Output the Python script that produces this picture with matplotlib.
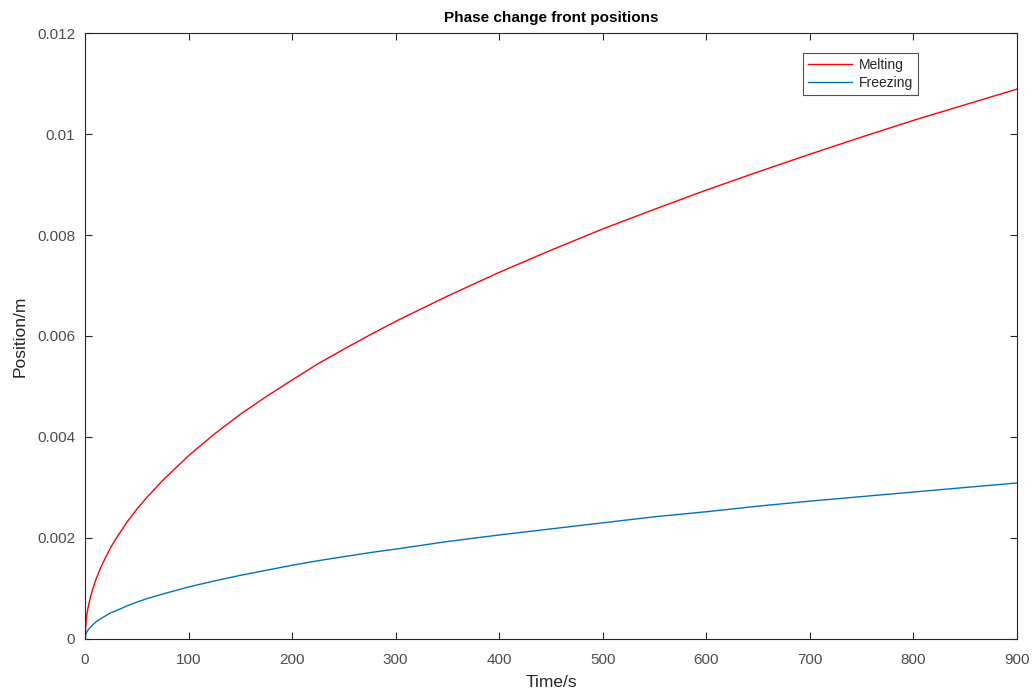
import matplotlib
matplotlib.use("Agg")
import matplotlib.pyplot as plt
from matplotlib.ticker import FuncFormatter

time_s = [0, 1, 2, 3, 5, 7, 10, 15, 20, 25, 30, 40, 50, 60, 75, 100, 125, 150,
          175, 200, 225, 250, 275, 300, 350, 400, 450, 500, 550, 600, 650, 700,
          750, 800, 850, 900]
melting = [0, 0.00036, 0.00051, 0.00063, 0.00081, 0.00096, 0.00115, 0.00141,
           0.00162, 0.00182, 0.00199, 0.00230, 0.00257, 0.00281, 0.00314,
           0.00363, 0.00406, 0.00445, 0.00480, 0.00513, 0.00545, 0.00574,
           0.00602, 0.00629, 0.00679, 0.00726, 0.00770, 0.00812, 0.00851,
           0.00889, 0.00925, 0.00960, 0.00994, 0.01027, 0.01058, 0.01089]
freezing = [0, 0.00010, 0.00015, 0.00018, 0.00023, 0.00027, 0.00033, 0.00040,
            0.00046, 0.00052, 0.00056, 0.00065, 0.00073, 0.00080, 0.00089,
            0.00103, 0.00115, 0.00126, 0.00136, 0.00146, 0.00155, 0.00163,
            0.00171, 0.00178, 0.00193, 0.00206, 0.00218, 0.00230, 0.00242,
            0.00252, 0.00263, 0.00273, 0.00282, 0.00291, 0.00300, 0.00309]
x_ticks = [0, 100, 200, 300, 400, 500, 600, 700, 800, 900]
y_ticks = [0, 0.002, 0.004, 0.006, 0.008, 0.01, 0.012]

plt.rcParams['font.family'] = ['Liberation Sans', 'DejaVu Sans']

fig = plt.figure(figsize=(10.33, 6.95), dpi=100)
ax = fig.add_axes([0.0823, 0.0806, 0.9022, 0.8719])

ax.plot(time_s, melting, color=(1, 0, 0), lw=1.0, label='Melting')
ax.plot(time_s, freezing, color=(0, 0.447, 0.741), lw=1.0, label='Freezing')

ax.set_xlim(0, 900)
ax.set_ylim(0, 0.012)
ax.set_xticks(x_ticks)
ax.set_yticks(y_ticks)
ax.yaxis.set_major_formatter(FuncFormatter(lambda v, p: '%g' % round(v, 6)))

grey = (0.15, 0.15, 0.15)
lab_grey = (0.3, 0.3, 0.3)
ax.tick_params(direction='in', length=5, width=0.8, color=grey,
               labelcolor=lab_grey, labelsize=11, top=True, right=True)
ax.tick_params(axis='x', pad=10)
ax.tick_params(axis='y', pad=7)
for s in ax.spines.values():
    s.set_color(grey)
    s.set_linewidth(0.8)

ax.set_xlabel('Time/s', fontsize=12.5, color=grey, labelpad=6)
ax.set_ylabel('Position/m', fontsize=12.5, color=grey, labelpad=7)
ax.set_title('Phase change front positions', fontsize=11, fontweight='bold',
             color='black', pad=8)

leg = ax.legend(loc='upper left', bbox_to_anchor=(803/1033, 1 - 53/695),
                bbox_transform=fig.transFigure, fontsize=10, frameon=True,
                fancybox=False, edgecolor=grey, handlelength=3.2,
                borderpad=0.35, labelspacing=0.3, handletextpad=0.5,
                borderaxespad=0)
leg.get_frame().set_linewidth(0.8)
for t in leg.get_texts():
    t.set_color(grey)

fig.savefig('out.png', dpi=100, facecolor='white')
